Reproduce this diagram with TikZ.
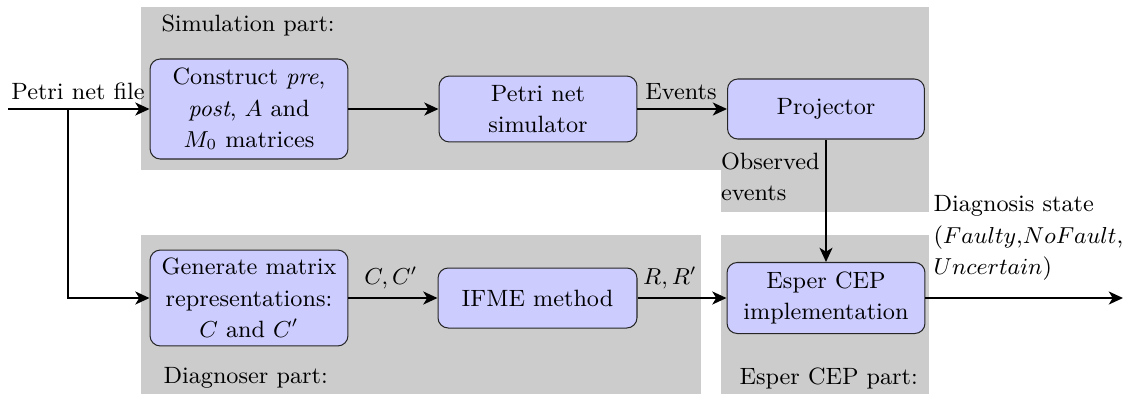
\documentclass[tikz,border=0pt]{standalone}
\usetikzlibrary{arrows.meta}
\begin{document}
\begin{tikzpicture}[x=0.39pt,y=-0.39pt,
  font=\fontsize{9.2}{12.2}\selectfont,
  box/.style={draw=black!85, fill=blue!20, rounded corners=4pt, align=center,
    inner sep=2pt, minimum width=77.2pt},
  flow/.style={line width=1.1pt, -{Stealth[length=5.5pt,width=5pt,inset=1.5pt]}},
  part/.style={fill=gray!40, draw=none},
  lbl/.style={inner sep=0pt}]
\useasboundingbox (0,0) rectangle (1126,394);

% shaded regions for the three parts
\path[part] (141,7) rectangle (929,170);
\path[part] (721,169) rectangle (929,212);
\path[part] (141,235) rectangle (701,394);
\path[part] (721,235) rectangle (929,394);

\node[lbl, anchor=west] (simtitle) at (161,25) {Simulation part:};
\node[lbl, anchor=west] (diagtitle) at (163,378) {Diagnoser part:};
\node[lbl, anchor=west] (espertitle) at (739,378) {Esper CEP part:};

% processing blocks
\node[box, minimum height=39pt] (construct) at (249,109)
  {Construct \textit{pre},\\ \textit{post}, $A$ and\\ $M_0$ matrices};
\node[box, minimum height=25.7pt] (simulator) at (538,109) {Petri net\\ simulator};
\node[box, minimum height=23.4pt, minimum width=76.8pt] (projector) at (826,109) {Projector};
\node[box, minimum height=37.4pt] (generate) at (249,298)
  {Generate matrix\\ representations:\\ $C$ and $C'$};
\node[box, minimum height=23.4pt, minimum width=77.6pt] (ifme) at (537.5,298) {IFME method};
\node[box, minimum height=27.7pt] (esper) at (826,298) {Esper CEP\\ implementation};

% free ends
\coordinate (input) at (8,109);
\coordinate (split) at (68,109);
\coordinate (output) at (1123,298);

% connectors
\draw[flow] (input) -- (construct.west);
\draw[flow] (split) |- (generate.west);
\draw[flow] (construct) -- (simulator);
\draw[flow] (simulator) -- (projector);
\draw[flow] (projector.south) -- (esper.north);
\draw[flow] (generate) -- (ifme);
\draw[flow] (ifme) -- (esper);
\draw[flow] (esper) -- (output);

% connector labels
\node[lbl] (pnf) at (78,91) {Petri net file};
\node[lbl] (events) at (681,92) {Events};
\node[lbl, anchor=east, align=left] (observed) at (820,177) {Observed\\ events};
\node[lbl] (cc) at (391,278) {$C, C'$};
\node[lbl] (rr) at (670,278) {$R, R'$};
\node[lbl, anchor=west, align=left] (state) at (933,238)
  {Diagnosis state\\ ($Faulty$,$NoFault$,\\ $Uncertain$)};
\end{tikzpicture}
\end{document}
